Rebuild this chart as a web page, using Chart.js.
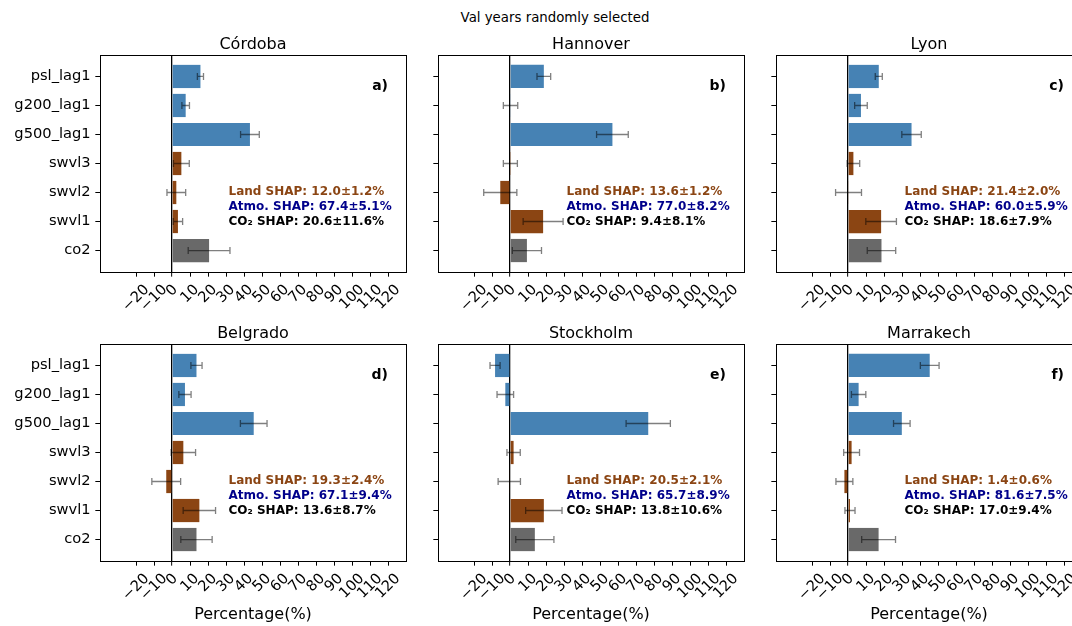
<!DOCTYPE html>
<html><head><meta charset="utf-8">
<script src="https://cdn.jsdelivr.net/npm/chart.js@4.4.1/dist/chart.umd.min.js"></script>
<style>
html,body{margin:0;padding:0;background:#fff;width:1072px;height:626px;overflow:hidden;}
body{position:relative;font-family:'DejaVu Sans';}
canvas{position:absolute;}
#sup{position:absolute;left:0;width:1110px;top:10px;text-align:center;font:13.33px 'DejaVu Sans';color:#000;line-height:16px;}
</style></head><body>
<div id="sup">Val years randomly selected</div>
<script>
// ---------- data ----------
const categories = ['psl_lag1','g200_lag1','g500_lag1','swvl3','swvl2','swvl1','co2'];
const groups = ['atmo','atmo','atmo','land','land','land','co2'];
const cities = ['Córdoba','Hannover','Lyon','Belgrado','Stockholm','Marrakech'];
const panelLetters = ['a)','b)','c)','d)','e)','f)'];
const xTickValues = [-20,-10,0,10,20,30,40,50,60,70,80,90,100,110,120];

const cordobaMean   = [15.8, 7.6, 43.3, 5.2, 2.4, 3.3, 20.6];
const cordobaErr    = [1.7, 2.1, 5.2, 4.4, 5.2, 2.6, 11.6];
const hannoverMean  = [18.8, 0.3, 56.9, 0.2, -5.4, 18.4, 9.4];
const hannoverErr   = [3.8, 4.0, 8.8, 3.9, 9.2, 11.1, 8.1];
const lyonMean      = [17.1, 7.2, 35.3, 3.0, 0.3, 18.4, 18.6];
const lyonErr       = [1.95, 3.5, 5.4, 3.5, 7.2, 8.5, 7.9];
const belgradoMean  = [13.6, 7.2, 45.4, 6.3, -3.2, 15.2, 13.6];
const belgradoErr   = [3.1, 3.4, 7.4, 6.8, 8.0, 9.0, 8.7];
const stockholmMean = [-8.3, -2.6, 76.8, 2.0, -0.4, 18.8, 13.8];
const stockholmErr  = [2.8, 4.6, 12.3, 3.7, 6.2, 10.1, 10.6];
const marrakechMean = [45.4, 5.9, 29.9, 2.0, -2.0, 1.1, 17.0];
const marrakechErr  = [5.2, 4.0, 4.6, 4.4, 4.7, 2.8, 9.4];

const landShapMean = [12.0, 13.6, 21.4, 19.3, 20.5, 1.4];
const landShapStd  = [1.2, 1.2, 2.0, 2.4, 2.1, 0.6];
const atmoShapMean = [67.4, 77.0, 60.0, 67.1, 65.7, 81.6];
const atmoShapStd  = [5.1, 8.2, 5.9, 9.4, 8.9, 7.5];
const co2ShapMean  = [20.6, 9.4, 18.6, 13.6, 13.8, 17.0];
const co2ShapStd   = [11.6, 8.1, 7.9, 8.7, 10.6, 9.4];

const panelMeans = [cordobaMean, hannoverMean, lyonMean, belgradoMean, stockholmMean, marrakechMean];
const panelErrs  = [cordobaErr, hannoverErr, lyonErr, belgradoErr, stockholmErr, marrakechErr];

// ---------- style / layout ----------
const groupColors = {atmo:'#4682B4', land:'#8B4513', co2:'#696969'};
const FONT = "'DejaVu Sans'";
const TICK_FS = 14.67;
const colLeft = [100, 438, 776];
const rowTop = [55, 344];
const AW = 306, AH = 217;
const TITLE_H = 21;
const XAX_H = [60, 63];
const SIDE = 100;

const errorBars = {
  id: 'errorBars',
  afterDatasetsDraw(chart) {
    const {ctx, scales:{x, y}} = chart;
    const ds = chart.data.datasets[0];
    ctx.save();
    ctx.strokeStyle = 'rgba(0,0,0,0.5)';
    ctx.lineWidth = 1.3;
    ds.data.forEach((pt, i) => {
      const e = ds.errors[i];
      const x0 = x.getPixelForValue(pt.x - e), x1 = x.getPixelForValue(pt.x + e);
      const yc = y.getPixelForValue(pt.y);
      ctx.beginPath();
      ctx.moveTo(x0, yc); ctx.lineTo(x1, yc);
      ctx.moveTo(x0, yc - 3.5); ctx.lineTo(x0, yc + 3.5);
      ctx.moveTo(x1, yc - 3.5); ctx.lineTo(x1, yc + 3.5);
      ctx.stroke();
    });
    ctx.restore();
  }
};

function fmtTick(v) { return v < 0 ? '\u2212' + Math.abs(v) : String(v); }

// x tick labels rotated 45deg, bounding box centred on the tick (matplotlib style)
const xTickLabels = {
  id: 'xTickLabels',
  afterDraw(chart) {
    const {ctx, scales:{x}, chartArea: ca} = chart;
    ctx.save();
    ctx.font = TICK_FS + 'px ' + FONT;
    ctx.fillStyle = '#000';
    ctx.textAlign = 'center';
    ctx.textBaseline = 'middle';
    const h = TICK_FS * 1.164;
    x.ticks.forEach(t => {
      const txt = fmtTick(t.value);
      const w = ctx.measureText(txt).width;
      const side = (w + h) * Math.SQRT1_2;
      const cx = x.getPixelForValue(t.value);
      const cy = ca.bottom + 9.33 + side / 2;
      ctx.save();
      ctx.translate(cx, cy);
      ctx.rotate(-Math.PI / 4);
      ctx.fillText(txt, 0, 0);
      ctx.restore();
    });
    ctx.restore();
  }
};

const frameAndText = {
  id: 'frameAndText',
  afterDraw(chart, args, opts) {
    const {ctx, chartArea: ca} = chart;
    ctx.save();
    ctx.strokeStyle = '#000';
    ctx.lineWidth = 1;
    ctx.strokeRect(Math.round(ca.left) + 0.5, Math.round(ca.top) + 0.5,
                   Math.round(ca.right) - Math.round(ca.left), Math.round(ca.bottom) - Math.round(ca.top));
    const p = opts.panel;
    const w = ca.right - ca.left, h = ca.bottom - ca.top;
    ctx.textBaseline = 'middle';
    ctx.textAlign = 'left';
    ctx.font = 'bold 12px ' + FONT;
    const tx = ca.left + 0.42 * w;
    ctx.fillStyle = '#8B4513';
    ctx.fillText('Land SHAP: ' + landShapMean[p].toFixed(1) + '±' + landShapStd[p].toFixed(1) + '%', tx, ca.top + 0.63 * h);
    ctx.fillStyle = '#00008B';
    ctx.fillText('Atmo. SHAP: ' + atmoShapMean[p].toFixed(1) + '±' + atmoShapStd[p].toFixed(1) + '%', tx, ca.top + 0.70 * h);
    ctx.fillStyle = '#000';
    ctx.fillText('CO\u2082 SHAP: ' + co2ShapMean[p].toFixed(1) + '±' + co2ShapStd[p].toFixed(1) + '%', tx, ca.top + 0.77 * h);
    ctx.font = 'bold 14px ' + FONT;
    ctx.textAlign = 'right';
    ctx.fillText(panelLetters[p], ca.right - 18, ca.top + 31);
    ctx.restore();
  }
};

for (let p = 0; p < 6; p++) {
  const col = p % 3, row = Math.floor(p / 3);
  const cv = document.createElement('canvas');
  const cw = AW + 2 * SIDE, chh = TITLE_H + AH + XAX_H[row];
  cv.width = cw; cv.height = chh;
  cv.style.left = (colLeft[col] - SIDE) + 'px';
  cv.style.top = (rowTop[row] - TITLE_H) + 'px';
  cv.style.width = cw + 'px'; cv.style.height = chh + 'px';
  document.body.appendChild(cv);
  const showY = col === 0;
  const showXTitle = row === 1;
  new Chart(cv, {
    type: 'bar',
    data: {
      datasets: [{
        data: panelMeans[p].map((v, i) => ({x: v, y: i})),
        errors: panelErrs[p],
        backgroundColor: groups.map(g => groupColors[g]),
        borderWidth: 0,
        barPercentage: 0.8,
        categoryPercentage: 1.0
      }]
    },
    options: {
      indexAxis: 'y',
      responsive: false,
      animation: false,
      devicePixelRatio: 1,
      layout: {padding: {left: 0, right: SIDE, top: 0, bottom: 0}},
      plugins: {
        legend: {display: false},
        tooltip: {enabled: false},
        title: {display: true, fullSize: false, text: cities[p], color: '#000',
                font: {family: FONT, size: 16, weight: 'normal'}, padding: {top: 1, bottom: 0.8}},
        frameAndText: {panel: p}
      },
      scales: {
        x: {
          type: 'linear', min: -40, max: 130, z: 1,
          afterBuildTicks: s => { s.ticks = xTickValues.map(v => ({value: v})); },
          afterFit: s => { s.height = XAX_H[row]; },
          border: {display: false},
          grid: {
            drawOnChartArea: true, drawTicks: true, tickLength: 4.67, tickColor: '#000', tickWidth: 1,
            color: c => (c.tick && c.tick.value === 0) ? '#000' : 'rgba(0,0,0,0)',
            lineWidth: c => (c.tick && c.tick.value === 0) ? 1.3 : 1
          },
          ticks: {display: false, autoSkip: false, callback: v => fmtTick(v)},
          title: {display: showXTitle, text: 'Percentage(%)', color: '#000',
                  font: {family: FONT, size: 16}, padding: {top: 0, bottom: 0}}
        },
        y: {
          type: 'linear', min: -0.74, max: 6.74, reverse: true, offset: false,
          afterBuildTicks: s => { s.ticks = categories.map((c, i) => ({value: i})); },
          afterFit: s => { s.width = SIDE; },
          border: {display: false},
          grid: {offset: false, drawOnChartArea: false, drawTicks: true, tickLength: 4.67, tickColor: '#000', tickWidth: 1},
          ticks: {
            autoSkip: false, padding: 4.67, color: '#000', font: {family: FONT, size: TICK_FS},
            callback: v => showY ? categories[v] : ''
          }
        }
      }
    },
    plugins: [errorBars, xTickLabels, frameAndText]
  });
}
</script>
</body></html>
